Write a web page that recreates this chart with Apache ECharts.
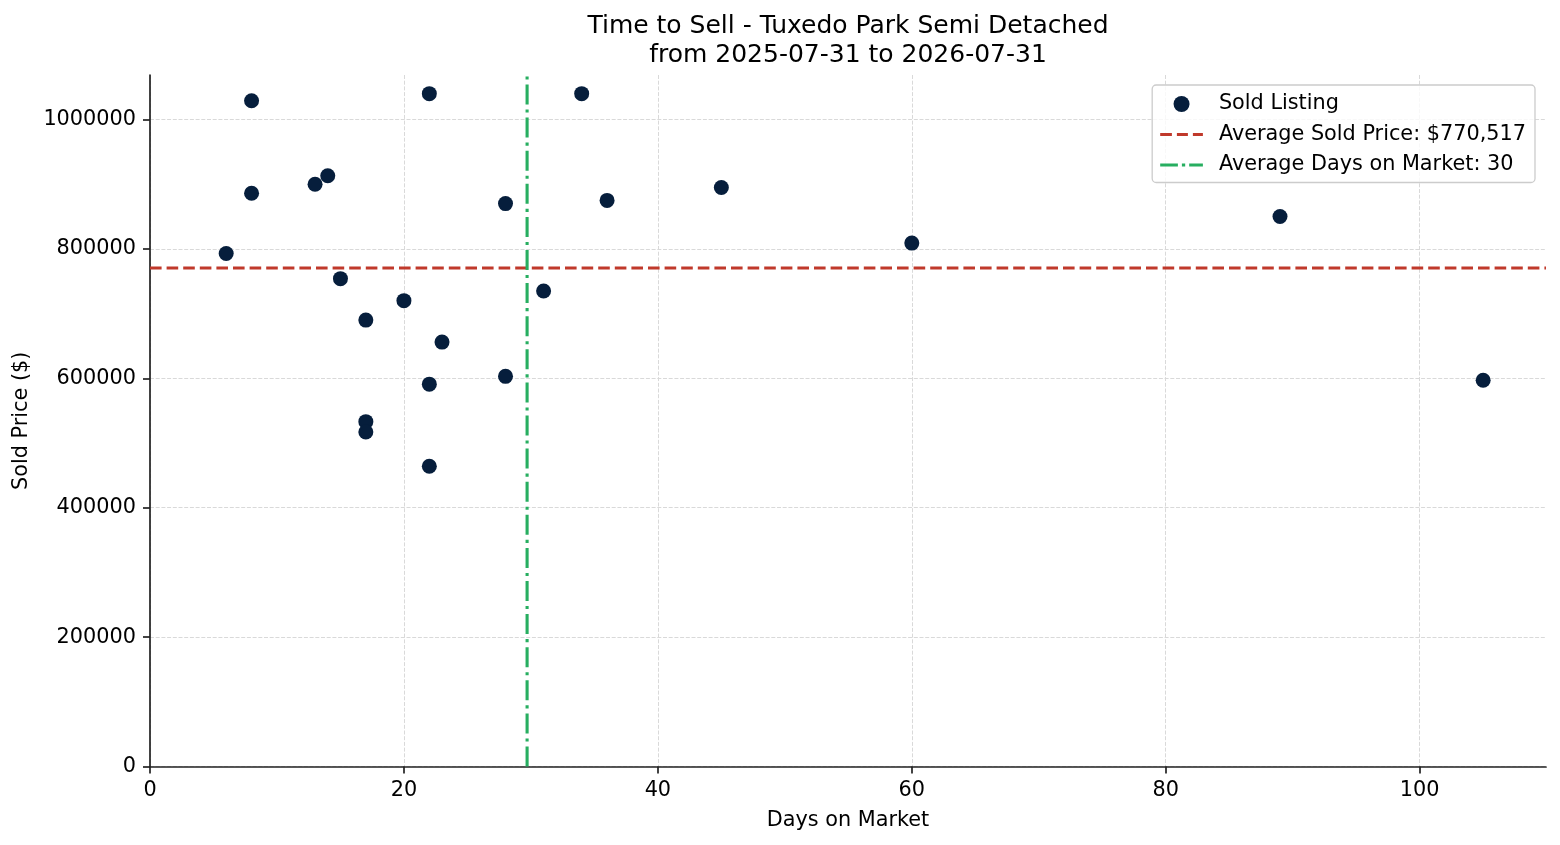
<!DOCTYPE html>
<html>
<head>
<meta charset="utf-8">
<title>Time to Sell - Tuxedo Park Semi Detached</title>
<script src="https://cdn.jsdelivr.net/npm/echarts@6.0.0/dist/echarts.min.js"></script>
<style>
  html, body { margin: 0; padding: 0; background: #fff; }
  #chart { width: 1560px; height: 845px; }
</style>
</head>
<body>
<div id="chart"></div>
<script>
// one entry per sold listing: days on market and sold price
const days = [8, 22, 34, 8, 13, 14, 28, 36, 45, 89, 60, 6, 15, 20, 31, 17, 23, 22, 28, 105, 17, 17, 22];
const prices = [1029000, 1040000, 1040000, 886000, 900000, 913000, 870000, 875000, 895000, 850000, 809000,
                793000, 754000, 720000, 735000, 690000, 656000, 591000, 603000, 597000, 533000, 517000, 464000];

// averages as shown in the legend / reference lines
const avgPrice = 770517;
const avgDays = 29.7;

const xTicks = [0, 20, 40, 60, 80, 100];
const yTicks = [0, 200000, 400000, 600000, 800000, 1000000];
const xMax = 109.95;
const yMax = 1068800;

const font = 'DejaVu Sans';
const navy = '#061e3c';
const red = '#c0392b';
const green = '#27ae60';
const axisColor = '#222';

const priceLabel = 'Average Sold Price: $' + avgPrice.toLocaleString('en-US');
const daysLabel = 'Average Days on Market: ' + Math.round(avgDays);

// legend icons: dashed / dash-dot strokes, tiny corner rects keep the box 42.7 x 16
const dashIcon = 'path://M0,0h0.01v0.01h-0.01z M0,6.45h11.7v3.1h-11.7z M16.7,6.45h11v3.1h-11z M32.7,6.45h10v3.1h-10z M42.69,15.99h0.01v0.01h-0.01z';
const dashDotIcon = 'path://M0,0h0.01v0.01h-0.01z M0,6.45h17.7v3.1h-17.7z M21.7,6.45h3.3v3.1h-3.3z M29,6.45h13.7v3.1h-13.7z M42.69,15.99h0.01v0.01h-0.01z';

const chart = echarts.init(document.getElementById('chart'));

const axisLine = { show: true, onZero: false, lineStyle: { color: axisColor, width: 1.7 } };
const gridLine = { show: true, lineStyle: { color: '#d9d9d9', width: 1, type: [4, 1.7] } };

chart.setOption({
    animation: false,
    backgroundColor: '#fff',
    textStyle: { fontFamily: font },
    title: {
        text: 'Time to Sell - Tuxedo Park Semi Detached\nfrom 2025-07-31 to 2026-07-31',
        left: 848,
        top: 12,
        textAlign: 'center',
        padding: 0,
        textStyle: { fontSize: 25, fontWeight: 'normal', color: '#000', lineHeight: 29, fontFamily: font }
    },
    legend: {
        orient: 'vertical',
        right: 25,
        top: 85,
        itemWidth: 42.7,
        itemHeight: 16,
        itemGap: 9.5,
        padding: [8.5, 9, 7, 8],
        selectedMode: false,
        borderColor: '#cccccc',
        borderWidth: 1.3,
        borderRadius: 4,
        backgroundColor: 'rgba(255,255,255,0.8)',
        textStyle: { fontSize: 20.8, color: '#000', fontFamily: font, padding: [0, 0, 0, 11] },
        data: [
            { name: 'Sold Listing', icon: 'circle', itemStyle: { color: navy, borderWidth: 0 } },
            { name: priceLabel, icon: dashIcon, itemStyle: { color: red, borderWidth: 0 } },
            { name: daysLabel, icon: dashDotIcon, itemStyle: { color: green, borderWidth: 0 } }
        ]
    },
    grid: { left: 150, right: 14, top: 75, bottom: 78.5, containLabel: false, outerBoundsMode: 'none' },
    xAxis: {
        type: 'value',
        min: 0,
        max: xMax,
        interval: 20,
        name: 'Days on Market',
        nameLocation: 'middle',
        nameGap: 44,
        nameTextStyle: { fontSize: 20.8, color: '#000', fontFamily: font },
        axisLine: axisLine,
        axisTick: { show: true, length: 7, lineStyle: { color: axisColor, width: 1.7 }, customValues: xTicks },
        axisLabel: { fontSize: 20.8, color: '#000', margin: 14, customValues: xTicks, formatter: v => String(v) },
        splitLine: gridLine
    },
    yAxis: {
        type: 'value',
        min: 0,
        max: yMax,
        interval: 200000,
        name: 'Sold Price ($)',
        nameLocation: 'middle',
        nameGap: 113,
        nameRotate: 90,
        nameTextStyle: { fontSize: 20.8, color: '#000', fontFamily: font },
        axisLine: axisLine,
        axisTick: { show: true, length: 7, lineStyle: { color: axisColor, width: 1.7 }, customValues: yTicks },
        axisLabel: { fontSize: 20.8, color: '#000', margin: 14, padding: [3, 0, 0, 0], customValues: yTicks, formatter: v => String(v) },
        splitLine: gridLine
    },
    series: [
        {
            name: 'Sold Listing',
            type: 'scatter',
            data: days.map((d, i) => [d, prices[i]]),
            symbolSize: 15,
            itemStyle: { color: navy, opacity: 1 },
            z: 3
        },
        {
            name: priceLabel,
            type: 'line',
            data: [[0, avgPrice], [xMax, avgPrice]],
            symbol: 'none',
            color: red,
            lineStyle: { color: red, width: 3.1, type: [11.6, 5] },
            silent: true,
            z: 4
        },
        {
            name: daysLabel,
            type: 'line',
            data: [[avgDays, 0], [avgDays, yMax]],
            symbol: 'none',
            color: green,
            lineStyle: { color: green, width: 3.1, type: [20, 5, 3.1, 5] },
            silent: true,
            z: 4
        }
    ]
});
</script>
</body>
</html>
